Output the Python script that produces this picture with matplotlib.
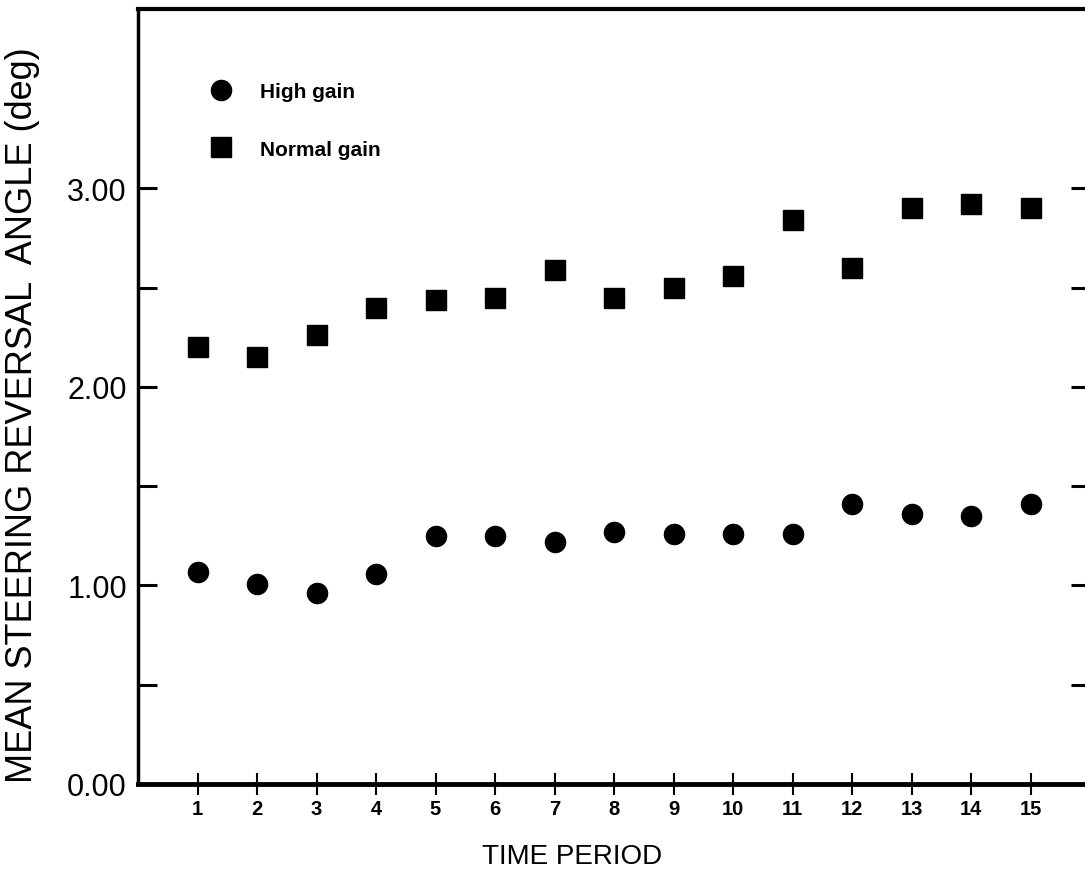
import matplotlib
matplotlib.use("Agg")
import matplotlib.pyplot as plt
from matplotlib.lines import Line2D

plt.rcParams['font.family'] = ['Liberation Sans', 'DejaVu Sans']

# data
periods = [1, 2, 3, 4, 5, 6, 7, 8, 9, 10, 11, 12, 13, 14, 15]
high_gain = [1.07, 1.01, 0.96, 1.06, 1.25, 1.25, 1.22, 1.27, 1.26, 1.26, 1.26, 1.41, 1.36, 1.35, 1.41]
normal_gain = [2.20, 2.15, 2.26, 2.40, 2.44, 2.45, 2.59, 2.45, 2.50, 2.56, 2.84, 2.60, 2.90, 2.92, 2.90]
ytick_major = [0.0, 1.0, 2.0, 3.0]
ytick_minor = [0.5, 1.5, 2.5]

fig = plt.figure(figsize=(10.85, 8.7), dpi=100)
# right spine sits just outside the picture, as in the scanned original
ax = fig.add_axes([138 / 1085, 85 / 870, 952 / 1085, 775 / 870])

ax.plot(periods, high_gain, 'o', color='black', markersize=14.5, linestyle='none')
ax.plot(periods, normal_gain, 's', color='black', markersize=14.5, linestyle='none')

ax.set_xlim(0, 16)
ax.set_ylim(0, 3.904)

ax.set_xticks(periods)
ax.set_xticklabels([str(p) for p in periods], fontsize=14.5, fontweight='bold')
ax.set_yticks(ytick_major)
ax.set_yticklabels(['%.2f' % v for v in ytick_major], fontsize=22)
ax.set_yticks(ytick_minor, minor=True)

ax.tick_params(axis='x', direction='inout', length=16, width=1.5, pad=3)
ax.tick_params(axis='y', which='both', direction='in', length=14, width=2.2,
               right=True, pad=8)

ax.spines['left'].set_linewidth(2.5)
ax.spines['bottom'].set_linewidth(3.5)
ax.spines['top'].set_linewidth(3.0)
ax.spines['right'].set_linewidth(3.0)

fig.text(572 / 1085, 6 / 870, 'TIME PERIOD', fontsize=20, ha='center', va='baseline')
fig.text(23 / 1085, 1 - 415 / 870, 'MEAN STEERING REVERSAL  ANGLE (deg)', fontsize=26,
         rotation=90, ha='center', va='center')

handles = [
    Line2D([], [], marker='o', color='black', linestyle='none', markersize=14.5),
    Line2D([], [], marker='s', color='black', linestyle='none', markersize=14.5),
]
ax.legend(handles, ['High gain', 'Normal gain'], loc='upper left',
          bbox_to_anchor=(62 / 952, 1 - 73 / 775), frameon=False,
          prop={'size': 15, 'weight': 'bold'}, labelspacing=1.85,
          handletextpad=0.9, borderaxespad=0, borderpad=0)

fig.savefig('out.png', dpi=100)
